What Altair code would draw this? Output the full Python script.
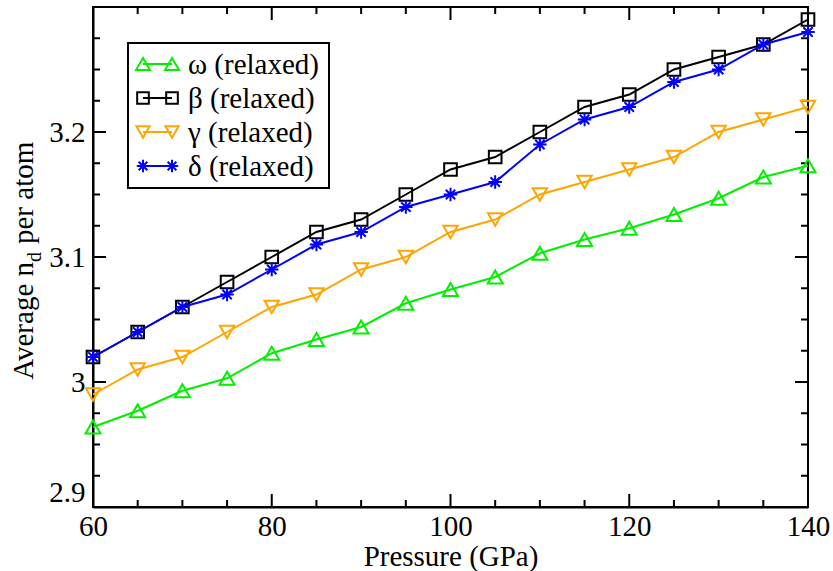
import altair as alt
import pandas as pd

# ---------------- data ----------------
pressure = [60, 65, 70, 75, 80, 85, 90, 95, 100, 105, 110, 115, 120, 125, 130, 135, 140]
omega = [2.964, 2.977, 2.993, 3.003, 3.023, 3.034, 3.044, 3.063, 3.074, 3.084,
         3.103, 3.114, 3.123, 3.134, 3.147, 3.164, 3.173]
beta = [3.02, 3.04, 3.06, 3.08, 3.10, 3.12, 3.13, 3.15, 3.17, 3.18,
        3.20, 3.22, 3.23, 3.25, 3.26, 3.27, 3.29]
gamma = [2.99, 3.01, 3.02, 3.04, 3.06, 3.07, 3.09, 3.10, 3.12, 3.13,
         3.15, 3.16, 3.17, 3.18, 3.20, 3.21, 3.22]
delta = [3.02, 3.04, 3.06, 3.07, 3.09, 3.11, 3.12, 3.14, 3.15, 3.16,
         3.19, 3.21, 3.22, 3.24, 3.25, 3.27, 3.28]

series_labels = ["ω (relaxed)", "β (relaxed)", "γ (relaxed)", "δ (relaxed)"]
series_colors = ["#00f000", "#000000", "#ffa500", "#0000ff"]

x_major = [60, 80, 100, 120, 140]
x_minor = [65, 70, 75, 85, 90, 95, 105, 110, 115, 125, 130, 135]
y_major = [2.9, 3.0, 3.1, 3.2, 3.3]
y_minor = [2.925, 2.95, 2.975, 3.025, 3.05, 3.075, 3.125, 3.15, 3.175,
           3.225, 3.25, 3.275]
y_labels = [2.9, 3.0, 3.1, 3.2]

# ---------------- layout ----------------
W, H = 715, 500
FONT = "Liberation Serif"
FS = 29
ASTER = "M0,-1L0,1M-1,0L1,0M-0.7,-0.7L0.7,0.7M-0.7,0.7L0.7,-0.7"
shapes = ["triangle-up", "square", "triangle-down", ASTER]
msizes = [225, 160, 205, 180]

xs = alt.Scale(domain=[60, 140], nice=False, zero=False)
ys = alt.Scale(domain=[2.9, 3.3], nice=False, zero=False)

x_axis = alt.Axis(values=x_major, format="d", ticks=False, tickSize=0, grid=False,
                  labelPadding=5, labelFlush=False, title="Pressure (GPa)", titleY=58,
                  titleBaseline="alphabetic")
y_axis = alt.Axis(values=y_labels, format="~g", ticks=False, tickSize=0, grid=False,
                  labelPadding=8, labelFlush=True, title="")

layers = []

# inward tick marks on all four sides
dxM = pd.DataFrame({"v": x_major})
dxm = pd.DataFrame({"v": x_minor})
dyM = pd.DataFrame({"v": y_major})
dym = pd.DataFrame({"v": y_minor})
for df, L in [(dxM, 13), (dxm, 7)]:
    layers.append(alt.Chart(df).mark_rule(color="black", strokeWidth=2).encode(
        x=alt.X("v:Q", scale=xs), y=alt.value(H), y2=alt.value(H - L)))
    layers.append(alt.Chart(df).mark_rule(color="black", strokeWidth=2).encode(
        x=alt.X("v:Q", scale=xs), y=alt.value(0), y2=alt.value(L)))
for df, L in [(dyM, 13), (dym, 7)]:
    layers.append(alt.Chart(df).mark_rule(color="black", strokeWidth=2).encode(
        y=alt.Y("v:Q", scale=ys), x=alt.value(0), x2=alt.value(L)))
    layers.append(alt.Chart(df).mark_rule(color="black", strokeWidth=2).encode(
        y=alt.Y("v:Q", scale=ys), x=alt.value(W), x2=alt.value(W - L)))

# data series (draw order: ω, β, γ, δ)
series_values = [omega, beta, gamma, delta]
for i, vals in enumerate(series_values):
    df = pd.DataFrame({"p": pressure, "n": vals})
    base = alt.Chart(df).encode(
        x=alt.X("p:Q", scale=xs, axis=x_axis),
        y=alt.Y("n:Q", scale=ys, axis=y_axis),
    )
    layers.append(base.mark_line(color=series_colors[i], strokeWidth=2))
    layers.append(base.mark_point(shape=shapes[i], size=msizes[i], filled=False,
                                  color=series_colors[i], strokeWidth=2, opacity=1))

# legend box
one = pd.DataFrame({"a": [0]})
layers.append(alt.Chart(one).mark_rect(fill="white", stroke="black", strokeWidth=2).encode(
    x=alt.value(35), x2=alt.value(236), y=alt.value(36), y2=alt.value(181)))
row_y = [57, 91, 125, 159]
for i in range(4):
    c = series_colors[i]
    layers.append(alt.Chart(one).mark_rule(color=c, strokeWidth=2).encode(
        x=alt.value(50), x2=alt.value(79), y=alt.value(row_y[i])))
    for xp in (50, 79):
        layers.append(alt.Chart(one).mark_point(shape=shapes[i], size=msizes[i] * 0.85,
                                                filled=False, color=c, strokeWidth=2,
                                                opacity=1).encode(
            x=alt.value(xp), y=alt.value(row_y[i])))
    layers.append(alt.Chart(one).mark_text(align="left", baseline="middle", font=FONT,
                                           fontSize=FS, color="black").encode(
        x=alt.value(95), y=alt.value(row_y[i] + 1), text=alt.value(series_labels[i])))

# y-axis title with subscript d
layers.append(alt.Chart(one).mark_text(angle=270, align="right", baseline="alphabetic",
                                       font=FONT, fontSize=FS, color="black").encode(
    x=alt.value(-60), y=alt.value(255), text=alt.value("Average n")))
layers.append(alt.Chart(one).mark_text(angle=270, align="left", baseline="alphabetic",
                                       font=FONT, fontSize=20, color="black").encode(
    x=alt.value(-52), y=alt.value(255), text=alt.value("d")))
layers.append(alt.Chart(one).mark_text(angle=270, align="left", baseline="alphabetic",
                                       font=FONT, fontSize=FS, color="black").encode(
    x=alt.value(-60), y=alt.value(237), text=alt.value("per atom")))

chart = alt.layer(*layers).properties(
    width=W, height=H,
    padding={"left": 93, "top": 7, "right": 25, "bottom": 64},
    autosize=alt.AutoSizeParams(type="none"),
    background="white",
).configure(font=FONT).configure_view(stroke="black", strokeWidth=2).configure_axis(
    labelFont=FONT, labelFontSize=FS, labelColor="black",
    titleFont=FONT, titleFontSize=FS, titleColor="black", titleFontWeight="normal",
    domainColor="black", domainWidth=2,
)

chart.save("out.html", embed_options={"renderer": "svg", "actions": False})
